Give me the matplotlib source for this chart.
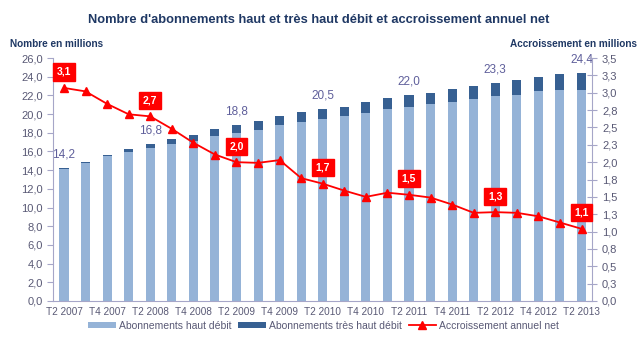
import numpy as np
import matplotlib
matplotlib.use('Agg')
import matplotlib.pyplot as plt

plt.rcParams['font.family'] = ['Liberation Sans', 'DejaVu Sans']

# Trimestres T2 2007 -> T2 2013
trimestres = ['T2 2007', 'T3 2007', 'T4 2007', 'T1 2008', 'T2 2008', 'T3 2008',
              'T4 2008', 'T1 2009', 'T2 2009', 'T3 2009', 'T4 2009', 'T1 2010',
              'T2 2010', 'T3 2010', 'T4 2010', 'T1 2011', 'T2 2011', 'T3 2011',
              'T4 2011', 'T1 2012', 'T2 2012', 'T3 2012', 'T4 2012', 'T1 2013',
              'T2 2013']

# total des abonnements (millions)
total = [14.2, 14.9, 15.6, 16.3, 16.8, 17.3, 17.8, 18.4, 18.8, 19.3, 19.8, 20.2,
         20.5, 20.8, 21.3, 21.7, 22.0, 22.3, 22.7, 23.0, 23.3, 23.6, 24.0, 24.3,
         24.4]
# abonnements tres haut debit (millions)
thd = [0.05, 0.1, 0.1, 0.35, 0.45, 0.55, 0.65, 0.75, 0.8, 0.95, 1.0, 1.05,
       1.0, 1.05, 1.15, 1.2, 1.25, 1.25, 1.35, 1.35, 1.4, 1.5, 1.5, 1.7, 1.8]
# accroissement annuel net (millions)
accroissement = [3.07, 3.02, 2.84, 2.69, 2.66, 2.48, 2.28, 2.11, 2.0, 1.99, 2.03,
                 1.77, 1.69, 1.59, 1.50, 1.56, 1.53, 1.49, 1.39, 1.27, 1.28,
                 1.27, 1.22, 1.13, 1.04]

labels_total = ['14,2', '16,8', '18,8', '20,5', '22,0', '23,3', '24,4']
labels_accr = ['3,1', '2,7', '2,0', '1,7', '1,5', '1,3', '1,1']
right_ticks = ['0,0', '0,3', '0,5', '0,8', '1,0', '1,3', '1,5', '1,8', '2,0',
               '2,3', '2,5', '2,8', '3,0', '3,3', '3,5']

hd = [t - h for t, h in zip(total, thd)]
x = np.arange(len(trimestres))

c_hd = '#95B3D7'
c_thd = '#376092'
c_axe = '#A6A6C8'
c_txt = '#595975'

fig = plt.figure(figsize=(6.41, 3.52), dpi=100)
ax = fig.add_axes([0.083, 0.145, 0.841, 0.69])

ax.bar(x, hd, width=0.42, color=c_hd, label=u'Abonnements haut débit', zorder=2)
ax.bar(x, thd, width=0.42, bottom=hd, color=c_thd,
       label=u'Abonnements très haut débit', zorder=2)

for k, lab in enumerate(labels_total):
    i = 4 * k
    ax.text(x[i], total[i] + 0.8, lab, ha='center', va='bottom',
            fontsize=8.5, color='#5F5F9B')

ax.set_ylim(0, 26)
ax.set_yticks(np.arange(0, 27, 2))
ax.yaxis.set_major_formatter(matplotlib.ticker.FuncFormatter(
    lambda v, p: ('%.1f' % v).replace('.', ',')))
ax.set_xlim(-0.5, len(x) - 0.5)
ax.set_xticks(x[::2])
ax.set_xticklabels(trimestres[::2])

ax2 = ax.twinx()
ax2.plot(x, accroissement, color='#FF0000', marker='^', markersize=6,
         linewidth=1.3, label='Accroissement annuel net', zorder=3)
for k, lab in enumerate(labels_accr):
    i = 4 * k
    ax2.text(x[i], accroissement[i] + 0.23, lab, ha='center', va='center',
             fontsize=7.5, color='white', fontweight='bold',
             bbox=dict(boxstyle='square,pad=0.35', fc='#FF0000', ec='#FF0000'))
ax2.set_ylim(0, 3.5)
ax2.set_yticks(np.arange(0, 3.51, 0.25))
ax2.set_yticklabels(right_ticks)

for a in (ax, ax2):
    for s in a.spines.values():
        s.set_visible(False)
    a.tick_params(colors=c_axe, labelcolor=c_txt, labelsize=8, length=4)
ax.spines['left'].set_visible(True)
ax.spines['left'].set_color(c_axe)
ax.spines['bottom'].set_visible(True)
ax.spines['bottom'].set_color(c_axe)
ax2.spines['right'].set_visible(True)
ax2.spines['right'].set_color(c_axe)
ax2.tick_params(axis='y', direction='inout', length=7)
ax.tick_params(axis='x', length=0, labelsize=7.2, pad=4)

fig.text(0.497, 0.943, u"Nombre d'abonnements haut et très haut débit et accroissement annuel net",
         ha='center', va='center', fontsize=9.3, fontweight='bold', color='#1F3864')
fig.text(0.016, 0.876, 'Nombre en millions', ha='left', va='center',
         fontsize=7.2, fontweight='bold', color='#1F3864')
fig.text(0.993, 0.876, 'Accroissement en millions', ha='right', va='center',
         fontsize=7.2, fontweight='bold', color='#1F3864')

h1, l1 = ax.get_legend_handles_labels()
h2, l2 = ax2.get_legend_handles_labels()
fig.legend(h1 + h2, l1 + l2, loc='center', bbox_to_anchor=(0.505, 0.075),
           ncol=3, frameon=False, fontsize=7.5, handlelength=2.6,
           handleheight=0.5, columnspacing=0.7, handletextpad=0.3,
           labelcolor=c_txt)

fig.savefig('out.png', dpi=100)
